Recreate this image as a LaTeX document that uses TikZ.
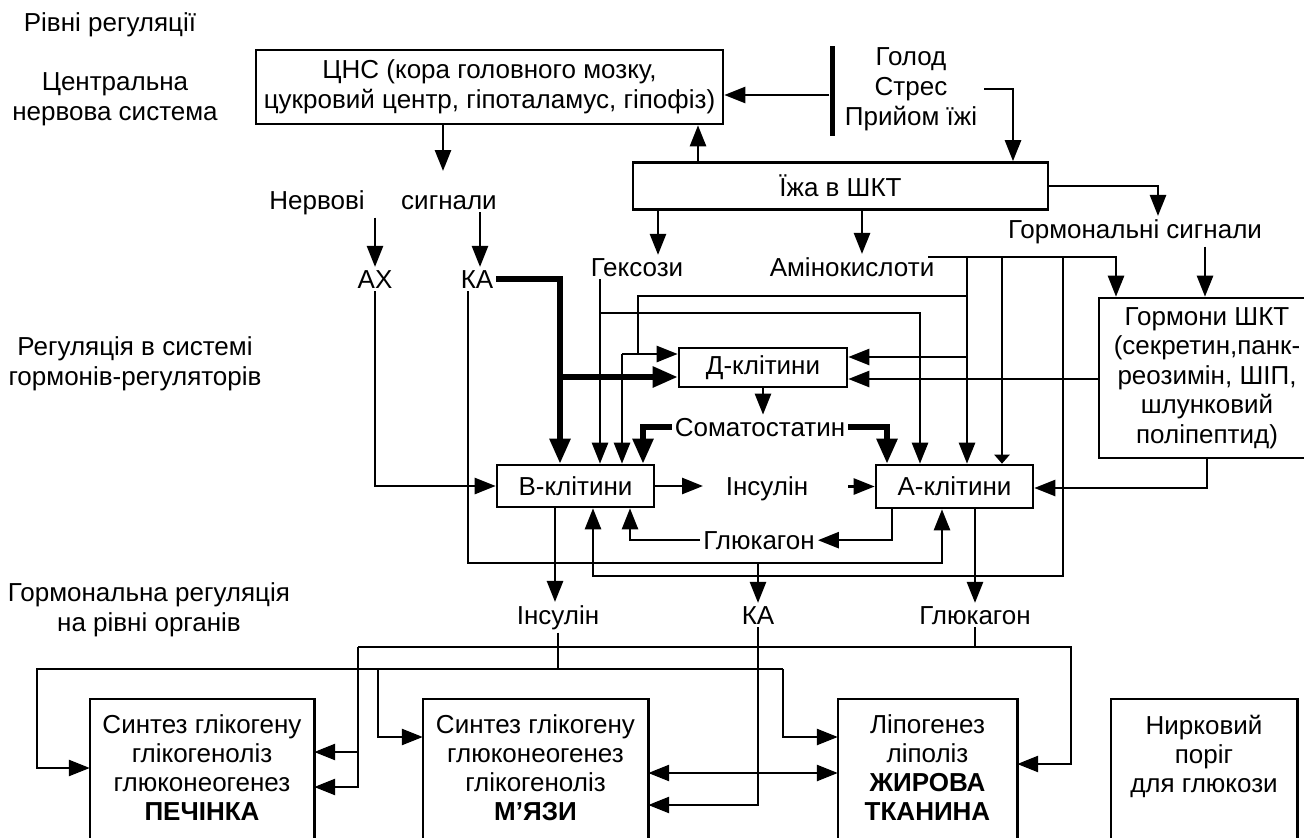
\documentclass[tikz,border=0pt]{standalone}
\usepackage{fontspec}
\setmainfont{Liberation Sans}
\usetikzlibrary{arrows.meta}
\begin{document}
\begin{tikzpicture}[x=1pt,y=-1pt,
  font=\fontsize{26}{30}\selectfont,
  line join=miter,
  ln/.style={line width=2.6pt},
  arr/.style={line width=2.6pt,-{Triangle[length=21pt,width=16pt]}},
  sarr/.style={line width=2.6pt,-{Triangle[length=9pt,width=15pt]}},
  darr/.style={line width=2.6pt,{Triangle[length=21pt,width=16pt]}-{Triangle[length=21pt,width=16pt]}},
  tarr/.style={line width=5.5pt,-{Triangle[length=25pt,width=20pt]}},
  box/.style={draw,line width=2.6pt,align=center,inner sep=0pt},
  obox/.style={align=center,inner sep=0pt,font=\fontsize{26}{29}\selectfont},
  lbl/.style={inner sep=3pt,anchor=base},
  mlbl/.style={align=center,inner sep=3pt},
]
\useasboundingbox (0,0) rectangle (1304,838);
\clip (0,0) rectangle (1304,838);

% level labels
\node[lbl] (title) at (110,31) {Рівні регуляції};
\node[mlbl] (lv1) at (115,99) {Центральна\\нервова система};
\node[mlbl] (lv2) at (135,364) {Регуляція в системі\\гормонів-регуляторів};
\node[mlbl] (lv3) at (149,610) {Гормональна регуляція\\на рівні органів};

% top
\node[box,minimum width=467,minimum height=74] (cns) at (489.5,87) {ЦНС (кора головного мозку,\\цукровий центр, гіпоталамус, гіпофіз)};
\node[fill,minimum width=5,minimum height=90,inner sep=0pt] (bar) at (832,91) {};
\node[mlbl] (stim) at (911,89) {Голод\\Стрес\\Прийом їжі};
\node[box,minimum width=415,minimum height=47] (gut) at (840.5,186) {Їжа в ШКТ};

\draw[arr] (bar.west |- 0,95) -- (cns.east |- 0,95);
\draw[arr] ([xshift=4pt]stim.east) -| (1013,0 |- gut.north);
\draw[arr] (698,0 |- gut.north) -- (698,0 |- cns.south);
\coordinate (nsig) at (443,171);
\draw[arr] (443,0 |- cns.south) -- (nsig);

\node[lbl] (nerv) at (317,209) {Нервові};
\node[lbl] (sig) at (449,209) {сигнали};
\node[lbl] (ax) at (375,288) {АХ};
\node[lbl] (ka1) at (477,288) {КА};
\draw[arr] (375,0 |- nerv.south) -- (375,0 |- ax.north);
\draw[arr] (480,0 |- sig.south) -- (480,0 |- ka1.north);

\node[lbl] (hex) at (637,276) {Гексози};
\node[lbl] (amino) at (852,276) {Амінокислоти};
\draw[arr] (658,0 |- gut.south) -- (658,0 |- hex.north);
\draw[arr] (862,0 |- gut.south) -- (862,0 |- amino.north);

\node[lbl] (hs) at (1135,238) {Гормональні сигнали};
\draw[arr] (gut.east) -| (1158,0 |- hs.north);
\node[box,minimum width=216,minimum height=160,font=\fontsize{26}{29.5}\selectfont] (horm) at (1207,378) {Гормони ШКТ\\(секретин,панк-\\реозимін, ШІП,\\шлунковий\\поліпептид)};
\draw[arr] (1205,0 |- hs.south) -- (1205,0 |- horm.north);

% cells
\node[box,minimum width=168,minimum height=39] (dcell) at (763,367.5) {Д-клітини};
\node[box,minimum width=157,minimum height=42] (bcell) at (575.5,486) {В-клітини};
\node[box,minimum width=157,minimum height=43] (acell) at (954.5,486.5) {А-клітини};

% amino acids
\coordinate (am) at (928,257);
\draw[arr] (am) -| (1116,0 |- horm.north);
\draw[arr] (967,257) -- (967,0 |- acell.north);
\draw[sarr] (1002,257) -- (1002,0 |- acell.north);
\draw[arr] (1063,257) |- (593,576) -- (593,0 |- bcell.south);
\draw[arr] (967,357) -- (dcell.east |- 0,357);
\draw[ln] (967,296) -| (638,354);
\draw[arr] (622,354) -- (dcell.west |- 0,354);
\draw[arr] (622,354) -- (622,0 |- bcell.north);

% GI hormones
\draw[arr] (horm.west |- 0,379) -- (dcell.east |- 0,379);
\draw[arr] (1207,0 |- horm.south) |- (acell.east |- 0,488);

% hexoses
\draw[arr] (600,0 |- hex.south) -- (600,0 |- bcell.north);
\draw[arr] (600,313) -| (920,0 |- acell.north);

% KA thick
\draw[tarr] (ka1.east) -| (560,0 |- bcell.north);
\draw[tarr] (560,377) -- (dcell.west |- 0,377);

% somatostatin
\node[lbl] (som) at (760,436) {Соматостатин};
\draw[arr] (763,0 |- dcell.south) -- (763,0 |- som.north);
\draw[tarr] (som.west) -| (643,0 |- bcell.north);
\draw[tarr] (som.east) -| (887,0 |- acell.north);

% AX
\draw[arr] (ax.south) |- (bcell.west);

% insulin middle
\node[lbl] (ins1) at (767,495) {Інсулін};
\draw[arr] (bcell.east) -- (bcell.east -| 703,0);
\draw[arr] (acell.west -| 848,0) -- (acell.west);

% glucagon middle
\node[lbl] (gl1) at (759,549) {Глюкагон};
\draw[arr] (892,0 |- acell.south) |- (gl1.east);
\draw[arr] (gl1.west) -| (630,0 |- bcell.south);

% KA thin
\node[lbl] (ka2) at (758,624) {КА};
\draw[arr] (468,0 |- ka1.south) |- (942,563) -- (942,0 |- acell.south);
\draw[arr] (758,563) -- (758,0 |- ka2.north);

% outputs
\node[lbl] (ins2) at (558,624) {Інсулін};
\node[lbl] (gl2) at (975,624) {Глюкагон};
\draw[arr] (555,0 |- bcell.south) -- (555,0 |- ins2.north);
\draw[arr] (975,0 |- acell.south) -- (975,0 |- gl2.north);

% organ boxes
\node[obox,minimum width=224,minimum height=138] (liver) at (202,768) {Синтез глікогену\\глікогеноліз\\глюконеогенез\\\textbf{ПЕЧІНКА}};
\node[obox,minimum width=225,minimum height=138] (musc) at (535.5,768) {Синтез глікогену\\глюконеогенез\\глікогеноліз\\\textbf{М’ЯЗИ}};
\node[obox,minimum width=179,minimum height=138] (fat) at (927.5,768) {Ліпогенез\\ліполіз\\\textbf{ЖИРОВА}\\\textbf{ТКАНИНА}};
\node[obox,minimum width=186,minimum height=138] (kid) at (1204,768) {Нирковий\\поріг\\для глюкози\\\mbox{}};
\foreach \b in {liver,musc,fat,kid}
  \draw[ln] ([yshift=-40pt]\b.south west) -- (\b.north west) -- (\b.north east) -- ([yshift=-40pt]\b.south east);

% glucagon to organs
\draw[ln] (gl2.south) -- (gl2.south |- 0,647);
\draw[arr] (358,647) -- (1071,647) |- (fat.east |- 0,764);
\draw[arr] (358,647) |- (liver.east |- 0,787);
\draw[arr] (358,752) -- (liver.east |- 0,752);

% insulin to organs
\draw[ln] (ins2.south) -- (ins2.south |- 0,669);
\draw[arr] (783,669) -- (37,669) |- (liver.west |- 0,768);
\draw[arr] (378,669) |- (musc.west |- 0,737);
\draw[arr] (783,669) |- (fat.west |- 0,737);

% KA to muscles
\draw[arr] (ka2.south) |- (musc.east |- 0,805);
\draw[darr] (musc.east |- 0,773) -- (fat.west |- 0,773);
\end{tikzpicture}
\end{document}
